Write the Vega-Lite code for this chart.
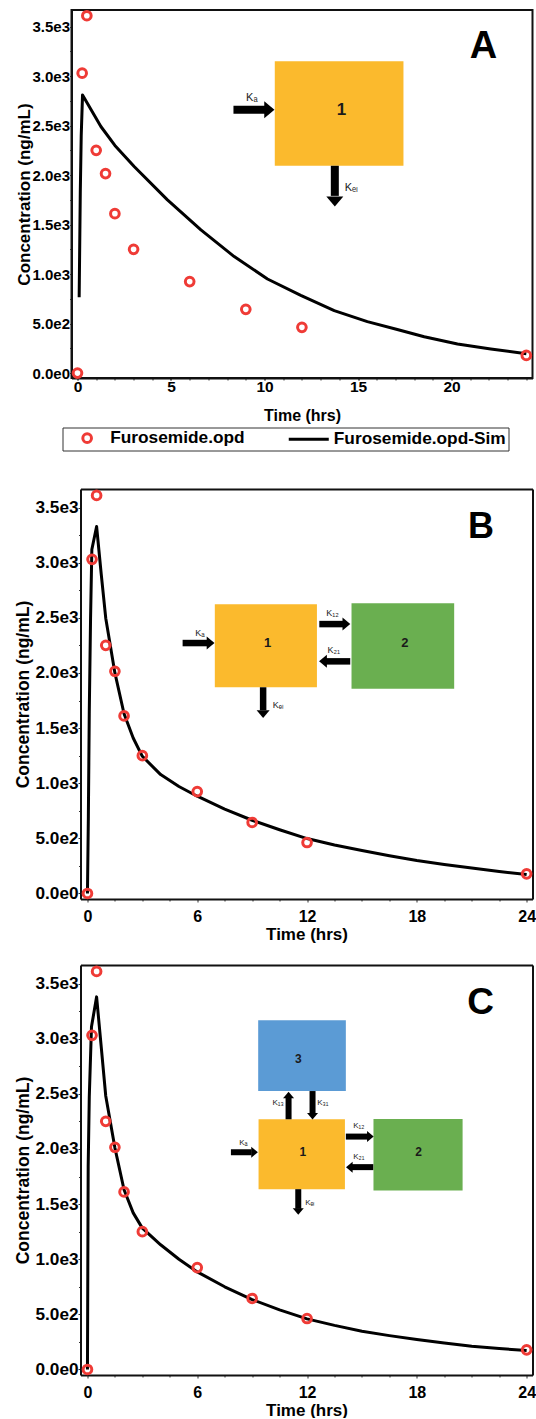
{
  "$schema": "https://vega.github.io/schema/vega-lite/v6.json",
  "background": "white",
  "padding": {"left": 14.5, "top": 4, "right": 0, "bottom": 0},
  "columns": 1,
  "spacing": 33,
  "resolve": {"scale": {"shape": "independent", "color": "independent", "fill": "independent"}},
  "config": {
    "font": "Liberation Sans",
    "view": {"stroke": "#111", "strokeWidth": 2},
    "axis": {"grid": false, "domainColor": "#111", "domainWidth": 2, "tickColor": "#333", "tickWidth": 1, "labelColor": "#000", "titleColor": "#000", "labelFont": "Liberation Sans", "titleFont": "Liberation Sans", "labelFontWeight": "bold", "titleFontWeight": "bold", "labelOverlap": false, "labelFlush": false}
  },
  "datasets": {
    "obs": [
      {"time": 0, "conc": 0, "series": "Furosemide.opd"},
      {"time": 0.25, "conc": 3030, "series": "Furosemide.opd"},
      {"time": 0.5, "conc": 3610, "series": "Furosemide.opd"},
      {"time": 1, "conc": 2250, "series": "Furosemide.opd"},
      {"time": 1.5, "conc": 2015, "series": "Furosemide.opd"},
      {"time": 2, "conc": 1610, "series": "Furosemide.opd"},
      {"time": 3, "conc": 1250, "series": "Furosemide.opd"},
      {"time": 6, "conc": 924, "series": "Furosemide.opd"},
      {"time": 9, "conc": 644, "series": "Furosemide.opd"},
      {"time": 12, "conc": 462, "series": "Furosemide.opd"},
      {"time": 24, "conc": 178, "series": "Furosemide.opd"}
    ],
    "sim": [
      {"model": "A", "time": 0.09, "conc": 766},
      {"model": "A", "time": 0.15, "conc": 1830},
      {"model": "A", "time": 0.2, "conc": 2400},
      {"model": "A", "time": 0.27, "conc": 2810},
      {"model": "A", "time": 1.25, "conc": 2491},
      {"model": "A", "time": 2, "conc": 2300},
      {"model": "A", "time": 3.03, "conc": 2087},
      {"model": "A", "time": 4.81, "conc": 1750},
      {"model": "A", "time": 6.6, "conc": 1447},
      {"model": "A", "time": 8.38, "conc": 1177},
      {"model": "A", "time": 10.16, "conc": 950},
      {"model": "A", "time": 11.94, "conc": 785},
      {"model": "A", "time": 13.73, "conc": 630},
      {"model": "A", "time": 15.5, "conc": 520},
      {"model": "A", "time": 17.1, "conc": 440},
      {"model": "A", "time": 18.54, "conc": 367},
      {"model": "A", "time": 20.32, "conc": 293},
      {"model": "A", "time": 22.1, "conc": 243},
      {"model": "A", "time": 24, "conc": 195},
      {"model": "B", "time": 0, "conc": 0},
      {"model": "B", "time": 0.05, "conc": 700},
      {"model": "B", "time": 0.1, "conc": 1652},
      {"model": "B", "time": 0.17, "conc": 2500},
      {"model": "B", "time": 0.24, "conc": 3120},
      {"model": "B", "time": 0.5, "conc": 3328},
      {"model": "B", "time": 0.75, "conc": 2900},
      {"model": "B", "time": 1, "conc": 2497},
      {"model": "B", "time": 1.5, "conc": 2000},
      {"model": "B", "time": 2, "conc": 1630},
      {"model": "B", "time": 2.5, "conc": 1410},
      {"model": "B", "time": 3, "conc": 1244},
      {"model": "B", "time": 4, "conc": 1078},
      {"model": "B", "time": 5, "conc": 970},
      {"model": "B", "time": 6, "conc": 882},
      {"model": "B", "time": 7.5, "conc": 765},
      {"model": "B", "time": 9, "conc": 664},
      {"model": "B", "time": 10.5, "conc": 578},
      {"model": "B", "time": 12, "conc": 498},
      {"model": "B", "time": 13.5, "conc": 440},
      {"model": "B", "time": 15, "conc": 390},
      {"model": "B", "time": 16.5, "conc": 343},
      {"model": "B", "time": 18, "conc": 299},
      {"model": "B", "time": 19.5, "conc": 263},
      {"model": "B", "time": 21, "conc": 232},
      {"model": "B", "time": 22.5, "conc": 200},
      {"model": "B", "time": 24, "conc": 172},
      {"model": "C", "time": 0, "conc": 0},
      {"model": "C", "time": 0.04, "conc": 1840},
      {"model": "C", "time": 0.1, "conc": 2474},
      {"model": "C", "time": 0.22, "conc": 3107},
      {"model": "C", "time": 0.5, "conc": 3379},
      {"model": "C", "time": 0.75, "conc": 2930},
      {"model": "C", "time": 1, "conc": 2480},
      {"model": "C", "time": 1.5, "conc": 2010},
      {"model": "C", "time": 2, "conc": 1630},
      {"model": "C", "time": 2.5, "conc": 1420},
      {"model": "C", "time": 3, "conc": 1282},
      {"model": "C", "time": 4, "conc": 1131},
      {"model": "C", "time": 5, "conc": 1000},
      {"model": "C", "time": 6, "conc": 885},
      {"model": "C", "time": 7.5, "conc": 750},
      {"model": "C", "time": 9, "conc": 634},
      {"model": "C", "time": 10.5, "conc": 540},
      {"model": "C", "time": 12, "conc": 459},
      {"model": "C", "time": 13.5, "conc": 400},
      {"model": "C", "time": 15, "conc": 347},
      {"model": "C", "time": 16.5, "conc": 307},
      {"model": "C", "time": 18, "conc": 272},
      {"model": "C", "time": 19.5, "conc": 240},
      {"model": "C", "time": 21, "conc": 211},
      {"model": "C", "time": 22.5, "conc": 190},
      {"model": "C", "time": 24, "conc": 172}
    ],
    "boxes": [
      {"panel": "A", "compartment": "1", "time": 10.55, "time2": 17.43, "conc": 3149, "conc2": 2094},
      {"panel": "B", "compartment": "1", "time": 6.96, "time2": 12.54, "conc": 2624, "conc2": 1870},
      {"panel": "B", "compartment": "2", "time": 14.43, "time2": 20.04, "conc": 2633, "conc2": 1857},
      {"panel": "C", "compartment": "3", "time": 9.33, "time2": 14.12, "conc": 3168, "conc2": 2525},
      {"panel": "C", "compartment": "1", "time": 9.35, "time2": 14.07, "conc": 2269, "conc2": 1635},
      {"panel": "C", "compartment": "2", "time": 15.63, "time2": 20.5, "conc": 2272, "conc2": 1623}
    ],
    "arrows": [
      {"panel": "A", "rate": "Ka", "time": 8.34, "time2": 10.05, "conc": 2660, "conc2": 2660},
      {"panel": "A", "rate": "Kel", "time": 13.76, "time2": 13.76, "conc": 2094, "conc2": 1790},
      {"panel": "B", "rate": "Ka", "time": 5.2, "time2": 6.6, "conc": 2271, "conc2": 2271},
      {"panel": "B", "rate": "K12", "time": 12.67, "time2": 13.99, "conc": 2443, "conc2": 2443},
      {"panel": "B", "rate": "K21", "time": 14.36, "time2": 13.01, "conc": 2105, "conc2": 2105},
      {"panel": "B", "rate": "Kel", "time": 9.6, "time2": 9.6, "conc": 1870, "conc2": 1661},
      {"panel": "C", "rate": "Ka", "time": 7.84, "time2": 8.97, "conc": 1970, "conc2": 1970},
      {"panel": "C", "rate": "K12", "time": 14.12, "time2": 15.36, "conc": 2112, "conc2": 2112},
      {"panel": "C", "rate": "K21", "time": 15.62, "time2": 14.43, "conc": 1835, "conc2": 1835},
      {"panel": "C", "rate": "K13", "time": 10.99, "time2": 10.99, "conc": 2269, "conc2": 2471},
      {"panel": "C", "rate": "K31", "time": 12.3, "time2": 12.3, "conc": 2525, "conc2": 2312},
      {"panel": "C", "rate": "Kel", "time": 11.52, "time2": 11.52, "conc": 1635, "conc2": 1457}
    ],
    "heads": [
      {"panel": "A", "rate": "Ka", "dir": "right", "time": 10.26, "conc": 2660},
      {"panel": "A", "rate": "Kel", "dir": "down", "time": 13.76, "conc": 1733},
      {"panel": "B", "rate": "Ka", "dir": "right", "time": 6.73, "conc": 2271},
      {"panel": "B", "rate": "K12", "dir": "right", "time": 14.15, "conc": 2443},
      {"panel": "B", "rate": "K21", "dir": "left", "time": 12.87, "conc": 2105},
      {"panel": "B", "rate": "Kel", "dir": "down", "time": 9.6, "conc": 1626},
      {"panel": "C", "rate": "Ka", "dir": "right", "time": 9.13, "conc": 1970},
      {"panel": "C", "rate": "K12", "dir": "right", "time": 15.46, "conc": 2112},
      {"panel": "C", "rate": "K21", "dir": "left", "time": 14.31, "conc": 1835},
      {"panel": "C", "rate": "K13", "dir": "up", "time": 10.99, "conc": 2489},
      {"panel": "C", "rate": "K31", "dir": "down", "time": 12.3, "conc": 2296},
      {"panel": "C", "rate": "Kel", "dir": "down", "time": 11.52, "conc": 1433}
    ],
    "annotations": [
      {"panel": "A", "kind": "box", "label": "1", "time": 14.12, "conc": 2660},
      {"panel": "A", "kind": "rate", "label": "Kₐ", "time": 9.32, "conc": 2779},
      {"panel": "A", "kind": "rate", "label": "Kₑₗ", "time": 14.65, "conc": 1871},
      {"panel": "A", "kind": "letter", "label": "A", "time": 21.71, "conc": 3292},
      {"panel": "B", "kind": "box", "label": "1", "time": 9.84, "conc": 2271},
      {"panel": "B", "kind": "box", "label": "2", "time": 17.34, "conc": 2271},
      {"panel": "B", "kind": "rate", "label": "Kₐ", "time": 6.15, "conc": 2361},
      {"panel": "B", "kind": "rate", "label": "K₁₂", "time": 13.39, "conc": 2542},
      {"panel": "B", "kind": "rate", "label": "K₂₁", "time": 13.46, "conc": 2211},
      {"panel": "B", "kind": "rate", "label": "Kₑₗ", "time": 10.43, "conc": 1712},
      {"panel": "B", "kind": "letter", "label": "B", "time": 21.5, "conc": 3321},
      {"panel": "C", "kind": "box", "label": "3", "time": 11.52, "conc": 2812},
      {"panel": "C", "kind": "box", "label": "1", "time": 11.77, "conc": 1976},
      {"panel": "C", "kind": "box", "label": "2", "time": 18.09, "conc": 1976},
      {"panel": "C", "kind": "rate", "label": "Kₐ", "time": 8.52, "conc": 2052},
      {"panel": "C", "kind": "rate", "label": "K₁₂", "time": 14.83, "conc": 2208},
      {"panel": "C", "kind": "rate", "label": "K₂₁", "time": 14.83, "conc": 1925},
      {"panel": "C", "kind": "rate", "label": "K₁₃", "time": 10.42, "conc": 2414},
      {"panel": "C", "kind": "rate", "label": "K₃₁", "time": 12.86, "conc": 2419},
      {"panel": "C", "kind": "rate", "label": "Kₑₗ", "time": 12.15, "conc": 1509},
      {"panel": "C", "kind": "letter", "label": "C", "time": 21.48, "conc": 3319}
    ]
  },
  "concat": [
    {
      "width": 461,
      "height": 368,
      "resolve": {"axis": {"x": "independent", "y": "independent"}},
      "layer": [
        {
          "data": {"name": "boxes"},
          "transform": [{"filter": "datum.panel === 'A'"}],
          "mark": {"type": "rect", "color": "#fbba2d"},
          "encoding": {
            "x": {"field": "time", "type": "quantitative", "scale": {"domain": [-0.32, 24.33], "nice": false, "zero": false},
              "axis": {"orient": "bottom", "values": [0,1,2,3,4,5,6,7,8,9,10,11,12,13,14,15,16,17,18,19,20,21,22,23,24], "labels": false, "domain": false, "tickSize": 2, "title": null}},
            "x2": {"field": "time2"},
            "y": {"field": "conc", "type": "quantitative", "scale": {"domain": [-50, 3668], "nice": false, "zero": false},
              "axis": {"orient": "left", "values": [250,750,1250,1750,2250,2750,3250], "labels": false, "domain": false, "tickSize": 2, "title": null}},
            "y2": {"field": "conc2"}
          }
        },
        {
          "encoding": {
            "x": {"field": "time", "type": "quantitative", "scale": {"domain": [-0.32, 24.33], "nice": false, "zero": false},
              "axis": {"orient": "bottom", "title": "Time (hrs)", "values": [0,5,10,15,20], "labelFontSize": 15.5, "titleFontSize": 16, "tickSize": 2, "labelPadding": -1, "titlePadding": 13}},
            "y": {"field": "conc", "type": "quantitative", "scale": {"domain": [-50, 3668], "nice": false, "zero": false},
              "axis": {"orient": "left", "title": "Concentration (ng/mL)", "values": [0,500,1000,1500,2000,2500,3000,3500], "labelExpr": "replace(format(datum.value, '.1e'), '+', '')", "labelFontSize": 15, "titleFontSize": 17, "tickSize": 2, "labelPadding": 0, "titlePadding": -2}}
          },
          "layer": [
            {
              "data": {"name": "arrows"},
              "transform": [{"filter": "datum.panel === 'A'"}],
              "mark": {"type": "rule", "color": "#000", "strokeWidth": 8, "strokeCap": "butt"},
              "encoding": {"x2": {"field": "time2"}, "y2": {"field": "conc2"}}
            },
            {
              "data": {"name": "heads"},
              "transform": [{"filter": "datum.panel === 'A' && datum.dir === 'right'"}],
              "mark": {"type": "point", "filled": true, "color": "#000", "opacity": 1, "size": 289, "shape": "M-0.6,-1L0.6,0L-0.6,1Z"}
            },
            {
              "data": {"name": "heads"},
              "transform": [{"filter": "datum.panel === 'A' && datum.dir === 'down'"}],
              "mark": {"type": "point", "filled": true, "color": "#000", "opacity": 1, "size": 289, "shape": "M-1,-0.6L0,0.6L1,-0.6Z"}
            },
            {
              "data": {"name": "annotations"},
              "transform": [{"filter": "datum.panel === 'A' && datum.kind === 'box'"}],
              "mark": {"type": "text", "fontSize": 17, "fontWeight": "bold", "color": "#1a1a1a"},
              "encoding": {"text": {"field": "label"}}
            },
            {
              "data": {"name": "annotations"},
              "transform": [{"filter": "datum.panel === 'A' && datum.kind === 'rate'"}],
              "mark": {"type": "text", "fontSize": 11, "color": "#1a1a1a"},
              "encoding": {"text": {"field": "label"}}
            },
            {
              "data": {"name": "annotations"},
              "transform": [{"filter": "datum.panel === 'A' && datum.kind === 'letter'"}],
              "mark": {"type": "text", "fontSize": 38, "fontWeight": "bold", "color": "#000"},
              "encoding": {"text": {"field": "label"}}
            },
            {
              "data": {"name": "sim"},
              "transform": [{"filter": "datum.model === 'A'"}, {"calculate": "'Furosemide.opd-Sim'", "as": "series"}],
              "mark": {"type": "line", "strokeWidth": 3, "strokeJoin": "round"},
              "encoding": {
                "color": {"field": "series", "type": "nominal",
                  "scale": {"domain": ["Furosemide.opd", "Furosemide.opd-Sim"], "range": ["#ef3b36", "#000000"]},
                  "legend": {"orient": "none", "legendX": -9, "legendY": 417.5, "direction": "horizontal", "columns": 2, "title": null, "labelFontSize": 17.3, "labelFontWeight": "bold", "labelColor": "#000", "labelLimit": 400, "symbolSize": 75, "symbolStrokeWidth": 3, "strokeColor": "#333", "fillColor": "#fff", "padding": 2, "symbolOffset": 14, "labelOffset": 14.4, "columnPadding": 36.6, "labelExpr": "datum.label + '\u2002'"}}
              }
            },
            {
              "data": {"name": "obs"},
              "mark": {"type": "point", "filled": false, "strokeWidth": 3, "size": 75, "opacity": 1},
              "encoding": {
                "color": {"field": "series", "type": "nominal",
                  "scale": {"domain": ["Furosemide.opd", "Furosemide.opd-Sim"], "range": ["#ef3b36", "#000000"]},
                  "legend": {"orient": "none", "legendX": -9, "legendY": 417.5, "direction": "horizontal", "columns": 2, "title": null, "labelFontSize": 17.3, "labelFontWeight": "bold", "labelColor": "#000", "labelLimit": 400, "symbolSize": 75, "symbolStrokeWidth": 3, "strokeColor": "#333", "fillColor": "#fff", "padding": 2, "symbolOffset": 14, "labelOffset": 14.4, "columnPadding": 36.6, "labelExpr": "datum.label + '\u2002'"}},
                "shape": {"field": "series", "type": "nominal",
                  "scale": {"domain": ["Furosemide.opd", "Furosemide.opd-Sim"], "range": ["circle", "M-5.08,0H4.16"]},
                  "legend": {"orient": "none", "legendX": -9, "legendY": 417.5, "direction": "horizontal", "columns": 2, "title": null, "labelFontSize": 17.3, "labelFontWeight": "bold", "labelColor": "#000", "labelLimit": 400, "symbolSize": 75, "symbolStrokeWidth": 3, "strokeColor": "#333", "fillColor": "#fff", "padding": 2, "symbolOffset": 14, "labelOffset": 14.4, "columnPadding": 36.6, "labelExpr": "datum.label + '\u2002'"}}
              }
            }
          ]
        }
      ]
    },
    {
      "columns": 1,
      "spacing": 19,
      "concat": [
        {
          "width": 461,
          "height": 410,
          "view": {"stroke": null},
          "resolve": {"axis": {"x": "independent", "y": "independent"}},
          "layer": [
            {
              "data": {"name": "boxes"},
              "transform": [{"filter": "datum.panel === 'B'"}],
              "mark": {"type": "rect"},
              "encoding": {
                "x": {"field": "time", "type": "quantitative", "scale": {"domain": [-0.38, 24.32], "range": [9, 461], "nice": false, "zero": false},
                  "axis": {"orient": "bottom", "values": [1.5,3,4.5,7.5,9,10.5,13.5,15,16.5,19.5,21,22.5], "labels": false, "domain": false, "tickSize": 2, "title": null}},
                "x2": {"field": "time2"},
                "y": {"field": "conc", "type": "quantitative", "scale": {"domain": [-50, 3668], "nice": false, "zero": false},
                  "axis": {"orient": "left", "offset": -9, "values": [250,750,1250,1750,2250,2750,3250], "labels": false, "domain": false, "tickSize": 2, "title": null}},
                "y2": {"field": "conc2"},
                "fill": {"field": "compartment", "type": "nominal", "scale": {"domain": ["1", "2", "3"], "range": ["#fbba2d", "#6aaf50", "#5b9bd5"]}, "legend": null}
              }
            },
            {
              "data": {"name": "annotations"},
              "transform": [{"filter": "datum.panel === 'B' && datum.kind === 'letter'"}],
              "mark": {"type": "text", "fontSize": 36, "fontWeight": "bold", "color": "#000"},
              "encoding": {
                "x": {"field": "time", "type": "quantitative", "scale": {"domain": [-0.38, 24.32], "range": [9, 461], "nice": false, "zero": false},
                  "axis": {"orient": "top", "domain": true, "ticks": false, "labels": false, "title": null}},
                "y": {"field": "conc", "type": "quantitative", "scale": {"domain": [-50, 3668], "nice": false, "zero": false},
                  "axis": {"orient": "right", "domain": true, "ticks": false, "labels": false, "title": null}},
                "text": {"field": "label"}
              }
            },
            {
              "encoding": {
                "x": {"field": "time", "type": "quantitative", "scale": {"domain": [-0.38, 24.32], "range": [9, 461], "nice": false, "zero": false},
                  "axis": {"orient": "bottom", "title": "Time (hrs)", "values": [0,6,12,18,24], "labelFontSize": 16, "titleFontSize": 17, "tickSize": 3, "labelPadding": 6, "titlePadding": 2}},
                "y": {"field": "conc", "type": "quantitative", "scale": {"domain": [-50, 3668], "nice": false, "zero": false},
                  "axis": {"orient": "left", "offset": -9, "title": "Concentration (ng/mL)", "values": [0,500,1000,1500,2000,2500,3000,3500], "labelExpr": "replace(format(datum.value, '.1e'), '+', '')", "labelFontSize": 17.2, "titleFontSize": 17.5, "tickSize": 2.5, "labelPadding": 0, "titlePadding": 2}}
              },
              "layer": [
                {
                  "data": {"name": "arrows"},
                  "transform": [{"filter": "datum.panel === 'B'"}],
                  "mark": {"type": "rule", "color": "#000", "strokeWidth": 6.5, "strokeCap": "butt"},
                  "encoding": {"x2": {"field": "time2"}, "y2": {"field": "conc2"}}
                },
                {
                  "data": {"name": "heads"},
                  "transform": [{"filter": "datum.panel === 'B'"}],
                  "mark": {"type": "point", "filled": true, "color": "#000", "opacity": 1, "size": 169},
                  "encoding": {"shape": {"field": "dir", "type": "nominal", "scale": {"domain": ["right", "left", "up", "down"], "range": ["M-0.6,-1L0.6,0L-0.6,1Z", "M0.6,-1L-0.6,0L0.6,1Z", "M-1,0.6L0,-0.6L1,0.6Z", "M-1,-0.6L0,0.6L1,-0.6Z"]}, "legend": null}}
                },
                {
                  "data": {"name": "annotations"},
                  "transform": [{"filter": "datum.panel === 'B' && datum.kind === 'box'"}],
                  "mark": {"type": "text", "fontSize": 13, "fontWeight": "bold", "color": "#1a1a1a"},
                  "encoding": {"text": {"field": "label"}}
                },
                {
                  "data": {"name": "annotations"},
                  "transform": [{"filter": "datum.panel === 'B' && datum.kind === 'rate'"}],
                  "mark": {"type": "text", "fontSize": 9, "color": "#1a1a1a"},
                  "encoding": {"text": {"field": "label"}}
                },
                {
                  "data": {"name": "sim"},
                  "transform": [{"filter": "datum.model === 'B'"}],
                  "mark": {"type": "line", "color": "#000", "strokeWidth": 3, "strokeJoin": "round"}
                },
                {
                  "data": {"name": "obs"},
                  "mark": {"type": "point", "filled": false, "color": "#ef3b36", "strokeWidth": 3, "size": 75, "opacity": 1}
                }
              ]
            }
          ]
        },
        {
          "width": 461,
          "height": 410,
          "view": {"stroke": null},
          "resolve": {"axis": {"x": "independent", "y": "independent"}},
          "layer": [
            {
              "data": {"name": "boxes"},
              "transform": [{"filter": "datum.panel === 'C'"}],
              "mark": {"type": "rect"},
              "encoding": {
                "x": {"field": "time", "type": "quantitative", "scale": {"domain": [-0.38, 24.32], "range": [9, 461], "nice": false, "zero": false},
                  "axis": {"orient": "bottom", "values": [1.5,3,4.5,7.5,9,10.5,13.5,15,16.5,19.5,21,22.5], "labels": false, "domain": false, "tickSize": 2, "title": null}},
                "x2": {"field": "time2"},
                "y": {"field": "conc", "type": "quantitative", "scale": {"domain": [-50, 3668], "nice": false, "zero": false},
                  "axis": {"orient": "left", "offset": -9, "values": [250,750,1250,1750,2250,2750,3250], "labels": false, "domain": false, "tickSize": 2, "title": null}},
                "y2": {"field": "conc2"},
                "fill": {"field": "compartment", "type": "nominal", "scale": {"domain": ["1", "2", "3"], "range": ["#fbba2d", "#6aaf50", "#5b9bd5"]}, "legend": null}
              }
            },
            {
              "data": {"name": "annotations"},
              "transform": [{"filter": "datum.panel === 'C' && datum.kind === 'letter'"}],
              "mark": {"type": "text", "fontSize": 37, "fontWeight": "bold", "color": "#000"},
              "encoding": {
                "x": {"field": "time", "type": "quantitative", "scale": {"domain": [-0.38, 24.32], "range": [9, 461], "nice": false, "zero": false},
                  "axis": {"orient": "top", "domain": true, "ticks": false, "labels": false, "title": null}},
                "y": {"field": "conc", "type": "quantitative", "scale": {"domain": [-50, 3668], "nice": false, "zero": false},
                  "axis": {"orient": "right", "domain": true, "ticks": false, "labels": false, "title": null}},
                "text": {"field": "label"}
              }
            },
            {
              "encoding": {
                "x": {"field": "time", "type": "quantitative", "scale": {"domain": [-0.38, 24.32], "range": [9, 461], "nice": false, "zero": false},
                  "axis": {"orient": "bottom", "title": "Time (hrs)", "values": [0,6,12,18,24], "labelFontSize": 16, "titleFontSize": 17, "tickSize": 3, "labelPadding": 6, "titlePadding": 2}},
                "y": {"field": "conc", "type": "quantitative", "scale": {"domain": [-50, 3668], "nice": false, "zero": false},
                  "axis": {"orient": "left", "offset": -9, "title": "Concentration (ng/mL)", "values": [0,500,1000,1500,2000,2500,3000,3500], "labelExpr": "replace(format(datum.value, '.1e'), '+', '')", "labelFontSize": 17.2, "titleFontSize": 17.5, "tickSize": 2.5, "labelPadding": 0, "titlePadding": 2}}
              },
              "layer": [
                {
                  "data": {"name": "arrows"},
                  "transform": [{"filter": "datum.panel === 'C'"}],
                  "mark": {"type": "rule", "color": "#000", "strokeWidth": 6, "strokeCap": "butt"},
                  "encoding": {"x2": {"field": "time2"}, "y2": {"field": "conc2"}}
                },
                {
                  "data": {"name": "heads"},
                  "transform": [{"filter": "datum.panel === 'C'"}],
                  "mark": {"type": "point", "filled": true, "color": "#000", "opacity": 1, "size": 121},
                  "encoding": {"shape": {"field": "dir", "type": "nominal", "scale": {"domain": ["right", "left", "up", "down"], "range": ["M-0.6,-1L0.6,0L-0.6,1Z", "M0.6,-1L-0.6,0L0.6,1Z", "M-1,0.6L0,-0.6L1,0.6Z", "M-1,-0.6L0,0.6L1,-0.6Z"]}, "legend": null}}
                },
                {
                  "data": {"name": "annotations"},
                  "transform": [{"filter": "datum.panel === 'C' && datum.kind === 'box'"}],
                  "mark": {"type": "text", "fontSize": 12, "fontWeight": "bold", "color": "#1a1a1a"},
                  "encoding": {"text": {"field": "label"}}
                },
                {
                  "data": {"name": "annotations"},
                  "transform": [{"filter": "datum.panel === 'C' && datum.kind === 'rate'"}],
                  "mark": {"type": "text", "fontSize": 8, "color": "#1a1a1a"},
                  "encoding": {"text": {"field": "label"}}
                },
                {
                  "data": {"name": "sim"},
                  "transform": [{"filter": "datum.model === 'C'"}],
                  "mark": {"type": "line", "color": "#000", "strokeWidth": 3, "strokeJoin": "round"}
                },
                {
                  "data": {"name": "obs"},
                  "mark": {"type": "point", "filled": false, "color": "#ef3b36", "strokeWidth": 3, "size": 75, "opacity": 1}
                }
              ]
            }
          ]
        }
      ]
    }
  ]
}
